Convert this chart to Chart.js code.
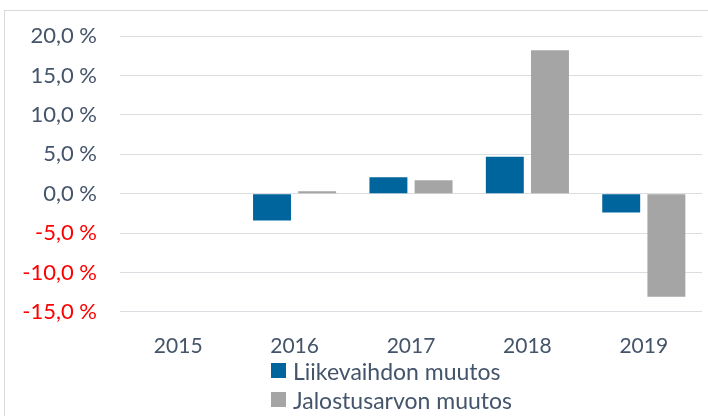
<!DOCTYPE html>
<html>
<head>
<meta charset="utf-8">
<script src="https://cdn.jsdelivr.net/npm/chart.js@4/dist/chart.umd.min.js"></script>
<style>
  html, body { margin: 0; padding: 0; background: #fff; }
  #wrap { position: relative; width: 708px; height: 416px; overflow: hidden; }
  #frame { position: absolute; left: 4px; top: 10px; width: 720px; height: 420px; border-left: 1px solid #D9D9D9; border-top: 1px solid #D9D9D9; box-sizing: border-box; }
  canvas { position: absolute; left: 0; top: 0; }
  #legend { position: absolute; left: 271px; top: 356px; font-family: Lato, "Open Sans", sans-serif; font-size: 23px; color: #44546A; }
  .item { display: flex; align-items: center; height: 29px; }
  .box { width: 15px; height: 15px; margin-right: 7px; }
</style>
</head>
<body>
<div id="wrap">
  <div id="frame"></div>
  <canvas id="c" width="708" height="416"></canvas>
  <div id="legend"></div>
</div>
<script>
const categories = ["2015", "2016", "2017", "2018", "2019"];
const seriesNames = ["Liikevaihdon muutos", "Jalostusarvon muutos"];
const liikevaihto = [null, -3.4, 2.1, 4.7, -2.4];
const jalostusarvo = [null, 0.3, 1.7, 18.2, -13.1];
const yTicks = [-15, -10, -5, 0, 5, 10, 15, 20];
const colors = ["#00659C", "#A5A5A5"];

const fmt = v => v.toFixed(1).replace('.', ',') + ' %';

const chart = new Chart(document.getElementById('c'), {
  type: 'bar',
  data: {
    labels: categories,
    datasets: [
      { label: seriesNames[0], data: liikevaihto, backgroundColor: colors[0] },
      { label: seriesNames[1], data: jalostusarvo, backgroundColor: colors[1] }
    ]
  },
  options: {
    responsive: false,
    animation: false,
    layout: { padding: { top: 35, right: 6, bottom: 35, left: 0 } },
    datasets: { bar: { categoryPercentage: 0.776, barPercentage: 0.84 } },
    plugins: { legend: { display: false }, tooltip: { enabled: false } },
    scales: {
      x: {
        grid: { display: false, drawTicks: false },
        border: { display: false },
        ticks: { color: '#44546A', font: { family: 'Lato', size: 21 }, padding: 22, maxRotation: 0 }
      },
      y: {
        min: -15, max: 20,
        afterBuildTicks: s => { s.ticks = yTicks.map(v => ({ value: v })); },
        afterFit: s => { s.width = 120; },
        grid: { color: '#DADDE2', lineWidth: 1, drawTicks: false },
        border: { display: false },
        ticks: {
          padding: 23,
          font: { family: 'Lato', size: 22 },
          color: ctx => ctx.tick && ctx.tick.value < 0 ? '#FF0000' : '#44546A',
          callback: v => fmt(v)
        }
      }
    }
  }
});

const legend = document.getElementById('legend');
chart.data.datasets.forEach(ds => {
  const it = document.createElement('div');
  it.className = 'item';
  const b = document.createElement('div');
  b.className = 'box';
  b.style.background = ds.backgroundColor;
  const t = document.createElement('span');
  t.textContent = ds.label;
  it.appendChild(b); it.appendChild(t);
  legend.appendChild(it);
});
</script>
</body>
</html>
